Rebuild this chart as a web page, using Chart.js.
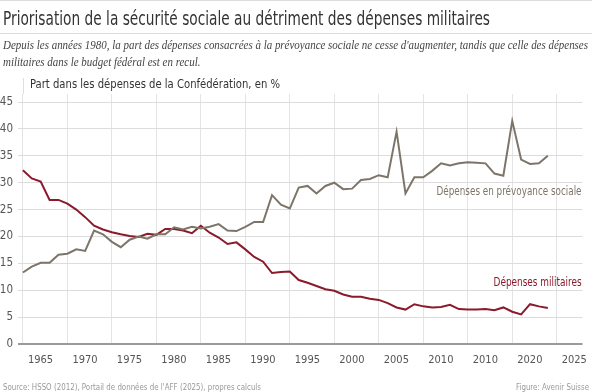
<!DOCTYPE html>
<html><head><meta charset="utf-8">
<script src="https://cdn.jsdelivr.net/npm/chart.js@4/dist/chart.umd.min.js"></script>
<style>
html,body{margin:0;padding:0;background:#fff;}
#wrap{position:relative;width:592px;height:392px;overflow:hidden;background:#fff;}
canvas{position:absolute;left:0;top:0;}
.t{position:absolute;white-space:nowrap;transform-origin:0 0;line-height:1;}
.cond{font-family:'Liberation Sans Narrow','DejaVu Sans Condensed',sans-serif;}
.rule{position:absolute;left:0;height:1px;background:#dcdcdc;}
</style></head><body>
<div id="wrap">
<canvas id="c" width="592" height="392"></canvas>
<div class="rule" style="top:0;width:592px"></div>
<div id="title" class="t cond" style="left:3px;top:9px;font-size:19px;color:#333">Priorisation de la sécurité sociale au détriment des dépenses militaires</div>
<div class="rule" style="top:33px;width:592px"></div>
<div id="sub1" class="t" style="left:3px;top:39px;font-family:'Liberation Serif',serif;font-style:italic;font-size:12px;color:#444">Depuis les années 1980, la part des dépenses consacrées à la prévoyance sociale ne cesse d'augmenter, tandis que celle des dépenses</div>
<div id="sub2" class="t" style="left:3px;top:56px;font-family:'Liberation Serif',serif;font-style:italic;font-size:12px;color:#444">militaires dans le budget fédéral est en recul.</div>
<div id="ytitle" class="t cond" style="left:30px;top:78px;font-size:12.5px;color:#333">Part dans les dépenses de la Confédération, en %</div>
<div id="src" class="t cond" style="left:3px;top:382px;font-size:9.5px;color:#999">Source: HSSO (2012), Portail de données de l'AFF (2025), propres calculs</div>
<div id="fig" class="t cond" style="left:516px;top:382px;font-size:9.5px;color:#999">Figure: Avenir Suisse</div>
</div>
<script>
// ---- data ----
const years = [1965,1966,1967,1968,1969,1970,1971,1972,1973,1974,1975,1976,1977,1978,1979,1980,1981,1982,1983,1984,1985,1986,1987,1988,1989,1990,1991,1992,1993,1994,1995,1996,1997,1998,1999,2000,2001,2002,2003,2004,2005,2006,2007,2008,2009,2010,2011,2012,2013,2014,2015,2016,2017,2018,2019,2020,2021,2022,2023,2024];
const socialShare = [13.3,14.4,15.1,15.1,16.6,16.8,17.6,17.3,21.1,20.4,19.0,18.0,19.4,20.0,19.6,20.4,20.4,21.7,21.3,21.8,21.5,21.8,22.3,21.1,21.0,21.8,22.7,22.7,27.7,25.9,25.2,29.1,29.4,28.0,29.4,30.0,28.8,28.9,30.5,30.7,31.4,31.0,39.5,28.0,31.0,31.0,32.2,33.6,33.2,33.6,33.8,33.7,33.6,31.7,31.3,41.5,34.3,33.5,33.6,35.0];
const militaryShare = [32.3,30.8,30.2,26.8,26.8,26.1,25.0,23.6,22.0,21.3,20.8,20.4,20.1,19.9,20.5,20.3,21.4,21.4,21.1,20.6,22.0,20.7,19.8,18.6,18.9,17.6,16.2,15.3,13.2,13.4,13.5,11.9,11.4,10.8,10.2,9.9,9.2,8.8,8.8,8.4,8.2,7.6,6.8,6.4,7.4,7.0,6.8,6.9,7.3,6.5,6.4,6.4,6.5,6.3,6.8,6.0,5.5,7.4,7.0,6.7];
const xTickValues = [1965,1970,1975,1980,1985,1990,1995,2000,2005,2010,2015,2020,2025];
const xTickLabels = ['1965','1970','1975','1980','1985','1990','1995','2000','2005','2010','2010','2020','2025'];
const yTickValues = [0,5,10,15,20,25,30,35,40,45];
const seriesNames = ['Dépenses en prévoyance sociale','Dépenses militaires'];

// fit static texts
function fit(id, w){const el=document.getElementById(id);const r=el.getBoundingClientRect().width;el.style.transform='scaleX('+(w/r)+')';return w/r;}
const s=fit('sub1',585); document.getElementById('sub2').style.transform='scaleX('+s+')';
fit('title',487); fit('ytitle',250); fit('src',258); fit('fig',73);

const COND="'Liberation Sans Narrow','DejaVu Sans Condensed',sans-serif";
const GREY='#7d7569', RED='#8a1a2c';

function drawFitted(ctx,text,xRight,yMid,width,color){
  ctx.save();
  ctx.font='12.5px '+COND; ctx.textAlign='right'; ctx.textBaseline='middle'; ctx.fillStyle=color;
  const k=width/ctx.measureText(text).width;
  ctx.translate(xRight,yMid); ctx.scale(k,1); ctx.fillText(text,0,0);
  ctx.restore();
}

const labelPlugin={id:'lbl',afterDatasetsDraw(ch){
  const {ctx,chartArea:a,scales:{y}}=ch;
  drawFitted(ctx,seriesNames[0],a.right-1,y.getPixelForValue(28.3),145,GREY);
  drawFitted(ctx,seriesNames[1],a.right-1,y.getPixelForValue(11.4),88,RED);
},beforeDatasetsDraw(ch){
  const {ctx,chartArea:a,scales:{x}}=ch;
  ctx.save(); ctx.strokeStyle='#dedede'; ctx.lineWidth=1;
  const px=Math.round(x.getPixelForValue(xTickValues[0]))+0.5;
  ctx.beginPath(); ctx.moveTo(px,78); ctx.lineTo(px,a.top); ctx.stroke(); ctx.restore();
}};

new Chart(document.getElementById('c'),{
  type:'line',
  data:{datasets:[
    {label:seriesNames[0],data:years.map((yr,i)=>({x:yr,y:socialShare[i]})),borderColor:GREY,borderWidth:2,pointRadius:0,tension:0},
    {label:seriesNames[1],data:years.map((yr,i)=>({x:yr,y:militaryShare[i]})),borderColor:RED,borderWidth:2,pointRadius:0,tension:0}
  ]},
  options:{
    responsive:false,animation:false,devicePixelRatio:1,
    layout:{padding:{top:94,bottom:28,left:0,right:2}},
    plugins:{legend:{display:false},tooltip:{enabled:false}},
    scales:{
      x:{type:'linear',min:1964.45,max:2027.9,
        afterBuildTicks:sc=>{sc.ticks=xTickValues.map(v=>({value:v}));},
        afterFit:sc=>{sc.height=20;},
        grid:{color:'#e4e4e4',lineWidth:1,drawTicks:false},
        border:{display:false},
        ticks:{autoSkip:false,maxRotation:0,align:'start',labelOffset:5,padding:10,color:'#555',font:{family:COND,size:11},
          callback:v=>xTickLabels[xTickValues.indexOf(v)]}
      },
      y:{min:0,max:46.5,
        afterBuildTicks:sc=>{sc.ticks=yTickValues.map(v=>({value:v}));},
        afterFit:sc=>{sc.width=18;},
        grid:{color:c=>c.tick&&c.tick.value===0?'#9b9b9b':'#dcdcdc',lineWidth:c=>c.tick&&c.tick.value===0?2:1,drawTicks:false},
        border:{display:false},
        ticks:{padding:5,color:'#555',font:{family:COND,size:11.5},callback:v=>String(v)}
      }
    }
  },
  plugins:[labelPlugin]
});
</script>
</body></html>
